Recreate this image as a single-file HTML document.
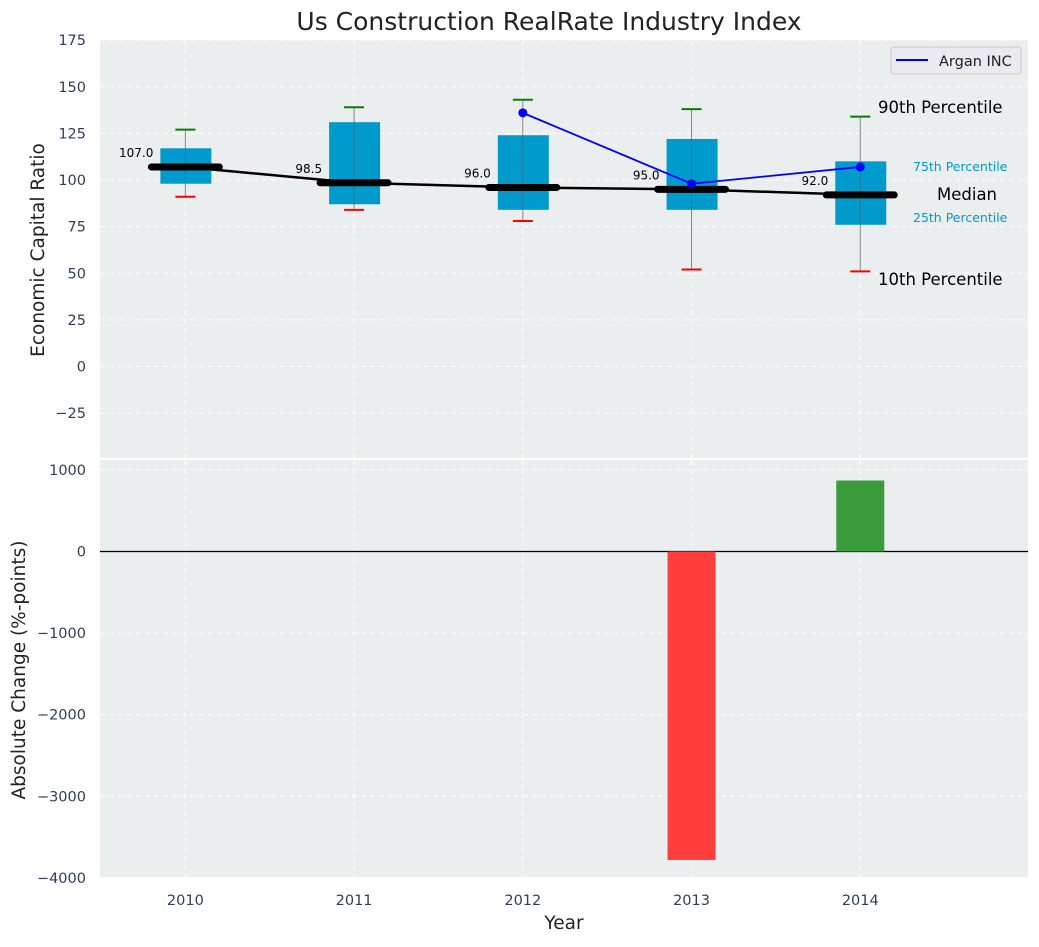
<!DOCTYPE html>
<html><head><meta charset="utf-8"><style>
body{margin:0;background:#fff;font-family:"Liberation Sans","DejaVu Sans",sans-serif}
svg text{font-family:"DejaVu Sans","Liberation Sans",sans-serif}
</style></head><body>
<svg id="c" width="1039" height="942" xmlns="http://www.w3.org/2000/svg"></svg>
<script>
const years=[2010,2011,2012,2013,2014];
const p10=[91,84,78,52,51];
const p25=[98,87,84,84,76];
const med=[107,98.5,96,95,92];
const p75=[117,131,124,122,110];
const p90=[127,139,143,138,134];
const arganYears=[2012,2013,2014];
const arganVals=[136,98,107];
const changeYears=[2013,2014];
const changeVals=[-3780,870];
const topTicks=[-25,0,25,50,75,100,125,150,175];
const botTicks=[-4000,-3000,-2000,-1000,0,1000];

const NS="http://www.w3.org/2000/svg";
const svg=document.getElementById('c');
function el(t,a,p){const e=document.createElementNS(NS,t);for(const k in a)e.setAttribute(k,a[k]);(p||svg).appendChild(e);return e;}
const L=100,R=1028;
const x=v=>L+(v-2009.5)/5.5*(R-L)+1;
const yT=v=>366.5-v*1.865;
const yB=v=>551.5-v*0.0816;

let bg=el('rect',{x:L,y:40,width:R-L,height:418,fill:'#eaeeee'});

let bg2=el('rect',{x:L,y:460,width:R-L,height:417,fill:'#eaeeee'});


years.forEach(yr=>{
  el('line',{x1:x(yr),x2:x(yr),y1:40,y2:458,stroke:'#fff','stroke-dasharray':'5,4','stroke-width':1});
  el('line',{x1:x(yr),x2:x(yr),y1:460,y2:877,stroke:'#fff','stroke-dasharray':'5,4','stroke-width':1});
});
topTicks.forEach(t=>{
  el('line',{x1:L,x2:R,y1:yT(t),y2:yT(t),stroke:'#fff','stroke-dasharray':'5,4'});
  const tx=el('text',{x:86,y:yT(t)+5,'text-anchor':'end','font-size':14.5,fill:'#2e4057'});
  tx.textContent=(t<0?'\u2212'+(-t):t);
  
});
botTicks.forEach(t=>{
  el('line',{x1:L,x2:R,y1:yB(t),y2:yB(t),stroke:'#fff','stroke-dasharray':'5,4'});
  const tx=el('text',{x:86,y:yB(t)+5,'text-anchor':'end','font-size':14.5,fill:'#2e4057'});
  tx.textContent=(t<0?'\u2212'+(-t):t);
  
});
years.forEach(yr=>{
  const tx=el('text',{x:x(yr),y:905,'text-anchor':'middle','font-size':14.5,fill:'#2e4057'});
  tx.textContent=yr;
  
});

years.forEach((yr,i)=>{
  const cx=x(yr);
  const w=el('line',{x1:cx,x2:cx,y1:yT(p10[i]),y2:yT(p90[i]),stroke:'#888','stroke-width':1});
  
  const b=el('rect',{x:cx-25,y:yT(p75[i]),width:51,height:yT(p25[i])-yT(p75[i]),fill:'#009acd'});
  
  el('line',{x1:cx,x2:cx,y1:yT(p75[i]),y2:yT(p25[i]),stroke:'#555','stroke-opacity':0.5,'stroke-width':1});
  el('line',{x1:cx-10,x2:cx+10,y1:yT(p90[i]),y2:yT(p90[i]),stroke:'green','stroke-width':2});
  el('line',{x1:cx-10,x2:cx+10,y1:yT(p10[i]),y2:yT(p10[i]),stroke:'red','stroke-width':2});
});
let d='';years.forEach((yr,i)=>{d+=(i?'L':'M')+x(yr)+','+yT(med[i]);});
let ml=el('path',{d:d,fill:'none',stroke:'#000','stroke-width':2.5});

years.forEach((yr,i)=>{
  const m=el('line',{x1:x(yr)-34,x2:x(yr)+34,y1:yT(med[i]),y2:yT(med[i]),stroke:'#000','stroke-width':7,'stroke-linecap':'round'});
  
  const t=el('text',{x:x(yr)-32,y:yT(med[i])-10,'text-anchor':'end','font-size':12,fill:'#000'});
  t.textContent=med[i].toFixed(1);
  
});
d='';arganYears.forEach((yr,i)=>{d+=(i?'L':'M')+x(yr)+','+yT(arganVals[i]);});
let al=el('path',{d:d,fill:'none',stroke:'blue','stroke-width':1.8});

arganYears.forEach((yr,i)=>{
  const c=el('circle',{cx:x(yr),cy:yT(arganVals[i]),r:4.5,fill:'blue'});
  
});
function txt(s,xx,yy,fs,col,name,anchor){const t=el('text',{x:xx,y:yy,'font-size':fs,fill:col,'text-anchor':anchor||'start'});t.textContent=s;}
txt('90th Percentile',878,113,16.5,'#000','p90-annotation');
txt('75th Percentile',913,171,12.5,'#009acd','p75-annotation');
txt('Median',937,200,16.5,'#000','median-annotation');
txt('25th Percentile',913,222,12.5,'#009acd','p25-annotation');
txt('10th Percentile',878,285,16.5,'#000','p10-annotation');

let lg=el('rect',{x:891,y:47,width:130,height:27,rx:3,fill:'#eaeaf0',stroke:'#ccc'});

el('line',{x1:896,x2:928,y1:60,y2:60,stroke:'blue','stroke-width':2});
txt('Argan INC',939,66,14.5,'#222','legend-entry');

el('line',{x1:L,x2:R,y1:yB(0),y2:yB(0),stroke:'#000','stroke-width':1.2});
changeYears.forEach((yr,i)=>{
  const v=changeVals[i];
  const r=el('rect',{x:x(yr)-24,y:Math.min(yB(v),yB(0)),width:48,height:Math.abs(yB(v)-yB(0)),fill:v<0?'#ff3d3d':'#3a9c3a'});
  
});

txt('Us Construction RealRate Industry Index',549,30,25,'#222','chart-title','middle');
let yt=el('text',{x:44,y:250,'font-size':18.5,fill:'#222','text-anchor':'middle',transform:'rotate(-90 44 250)'});
yt.textContent='Economic Capital Ratio';
let yt2=el('text',{x:25,y:670,'font-size':18.5,fill:'#222','text-anchor':'middle',transform:'rotate(-90 25 670)'});
yt2.textContent='Absolute Change (%-points)';
txt('Year',564,929,18.5,'#222','x-axis-title','middle');
</script>
</body></html>
